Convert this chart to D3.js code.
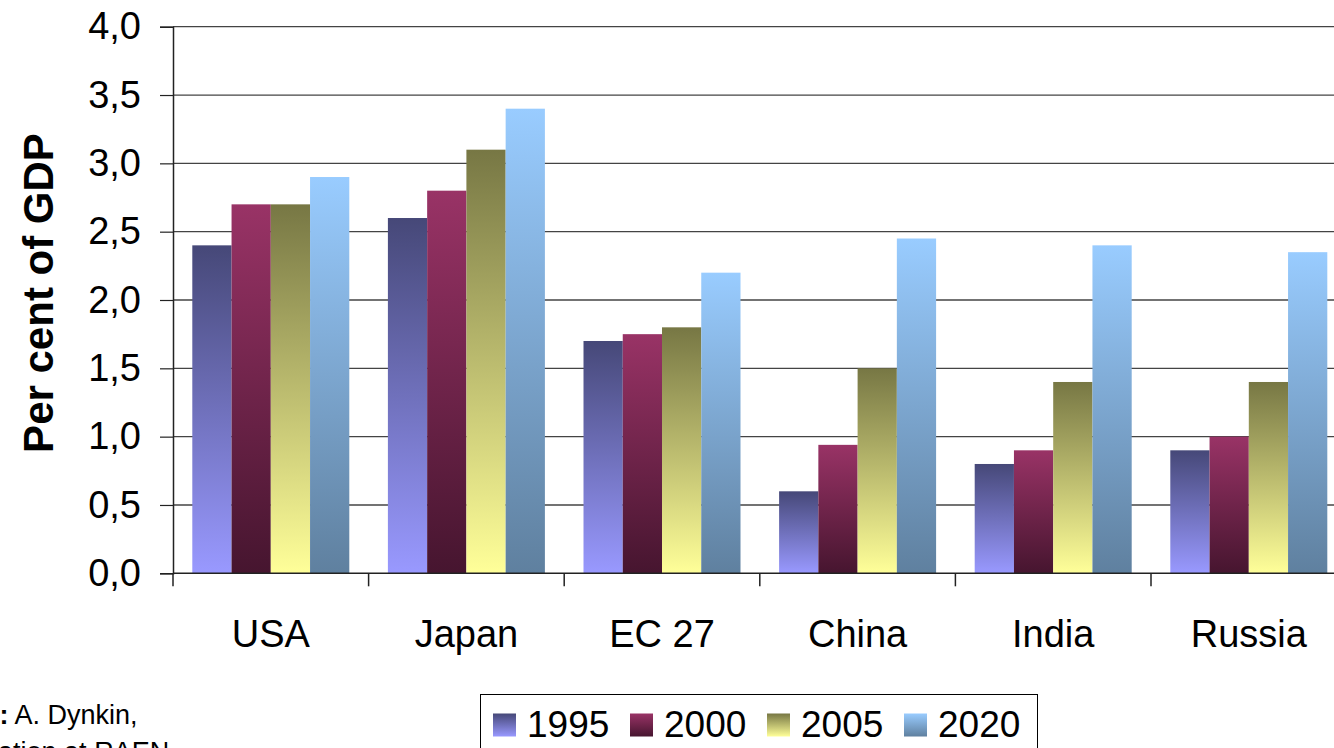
<!DOCTYPE html>
<html>
<head>
<meta charset="utf-8">
<script src="https://cdn.jsdelivr.net/npm/d3@7"></script>
<style>
  html, body { margin: 0; padding: 0; background: #fff; overflow: hidden; }
  svg { display: block; font-family: "Liberation Sans", Arial, sans-serif; }
</style>
</head>
<body>
<svg id="chart" width="1334" height="748"></svg>
<script>
const categories = ["USA", "Japan", "EC 27", "China", "India", "Russia"];
const seriesNames = ["1995", "2000", "2005", "2020"];
const v1995 = [2.4, 2.6, 1.7, 0.6, 0.8, 0.9];
const v2000 = [2.7, 2.8, 1.75, 0.94, 0.9, 1.0];
const v2005 = [2.7, 3.1, 1.8, 1.5, 1.4, 1.4];
const v2020 = [2.9, 3.4, 2.2, 2.45, 2.4, 2.35];
const yTicks = [0, 0.5, 1, 1.5, 2, 2.5, 3, 3.5, 4];
const yTitle = "Per cent of GDP";
const sourceBold = "Source:";
const sourceLine1 = " A. Dynkin,";
const sourceLine2 = "presentation at RAEN";

const seriesValues = [v1995, v2000, v2005, v2020];
const gradColors = [
  ["#464878", "#9999ff"],
  ["#993366", "#46152f"],
  ["#777744", "#ffff99"],
  ["#99ccff", "#5f809f"]
];

const svg = d3.select("#chart");
const plotLeft = 173, plotTop = 26.7, plotBottom = 573.3, step = 195.6;
const plotRight = plotLeft + step * categories.length;

const defs = svg.append("defs");
seriesNames.forEach((s, i) => {
  const g = defs.append("linearGradient").attr("id", "g" + i)
    .attr("x1", 0).attr("y1", 0).attr("x2", 0).attr("y2", 1);
  g.append("stop").attr("offset", "0%").attr("stop-color", gradColors[i][0]);
  g.append("stop").attr("offset", "100%").attr("stop-color", gradColors[i][1]);
});

const x = d3.scaleBand().domain(categories).range([plotLeft, plotRight]).padding(0);
const xs = d3.scaleBand().domain(seriesNames).range([19.3, step - 19.3]).padding(0);
const y = d3.scaleLinear().domain([0, 4]).range([plotBottom, plotTop]);

// gridlines
svg.append("g").selectAll("line").data(yTicks.filter(t => t > 0)).join("line")
  .attr("x1", plotLeft).attr("x2", 1334)
  .attr("y1", d => y(d)).attr("y2", d => y(d))
  .attr("stroke", "#444").attr("stroke-width", 1.3);

// bars
const data = [];
categories.forEach((c, ci) => seriesNames.forEach((s, si) => data.push({c, s, si, v: seriesValues[si][ci]})));
svg.append("g").selectAll("rect").data(data).join("rect")
  .attr("x", d => x(d.c) + xs(d.s))
  .attr("width", xs.bandwidth())
  .attr("y", d => y(d.v))
  .attr("height", d => y(0) - y(d.v))
  .attr("fill", d => `url(#g${d.si})`);

// y axis
const yAxis = d3.axisLeft(y).tickValues(yTicks)
  .tickFormat(d => d3.format(".1f")(d).replace(".", ","))
  .tickSize(13).tickPadding(19);
const yg = svg.append("g").attr("transform", `translate(${plotLeft},0)`).call(yAxis);
yg.select(".domain").attr("stroke", "#222").attr("stroke-width", 1.5);
yg.selectAll(".tick line").attr("stroke", "#222").attr("stroke-width", 1.2);
yg.selectAll(".tick text").attr("font-size", 38).attr("fill", "#000")
  .attr("font-family", "'Liberation Sans', Arial, sans-serif");

// x axis
const xAxis = d3.axisBottom(x).tickSize(0).tickPadding(0);
const xg = svg.append("g").attr("transform", `translate(0,${plotBottom})`).call(xAxis);
xg.select(".domain").remove();
xg.append("line").attr("x1", plotLeft).attr("x2", 1334).attr("y1", 0).attr("y2", 0)
  .attr("stroke", "#222").attr("stroke-width", 1.5);
xg.selectAll(".tick text").attr("font-size", 38).attr("fill", "#000")
  .attr("font-family", "'Liberation Sans', Arial, sans-serif")
  .attr("y", 74).attr("dy", 0);
// category boundary ticks
const boundaries = d3.range(categories.length + 1).map(i => plotLeft + i * step);
xg.append("g").selectAll("line").data(boundaries).join("line")
  .attr("x1", d => d).attr("x2", d => d).attr("y1", 0).attr("y2", 13)
  .attr("stroke", "#222").attr("stroke-width", 1.5);

// y title
svg.append("text")
  .attr("transform", "translate(53,293) rotate(-90)")
  .attr("text-anchor", "middle")
  .attr("font-size", 42).attr("font-weight", "bold").attr("fill", "#000")
  .text(yTitle);

// source
const src = svg.append("text").attr("x", -92).attr("y", 724).attr("font-size", 27).attr("fill", "#000");
src.append("tspan").attr("font-weight", "bold").text(sourceBold);
src.append("tspan").text(sourceLine1);
svg.append("text").attr("x", -92).attr("y", 761).attr("font-size", 27).attr("fill", "#000").text(sourceLine2);

// legend
const lg = svg.append("g");
lg.append("rect").attr("x", 480.5).attr("y", 694.5).attr("width", 557).attr("height", 70)
  .attr("fill", "#fff").attr("stroke", "#000").attr("stroke-width", 1);
const items = lg.selectAll("g.item").data(seriesNames).join("g")
  .attr("transform", (d, i) => `translate(${493 + i * 137},0)`);
items.append("rect").attr("x", 0).attr("y", 713.5).attr("width", 23).attr("height", 23)
  .attr("fill", (d, i) => `url(#g${i})`);
items.append("text").attr("x", 34).attr("y", 736.7).attr("font-size", 37).attr("fill", "#000").text(d => d);
</script>
</body>
</html>
